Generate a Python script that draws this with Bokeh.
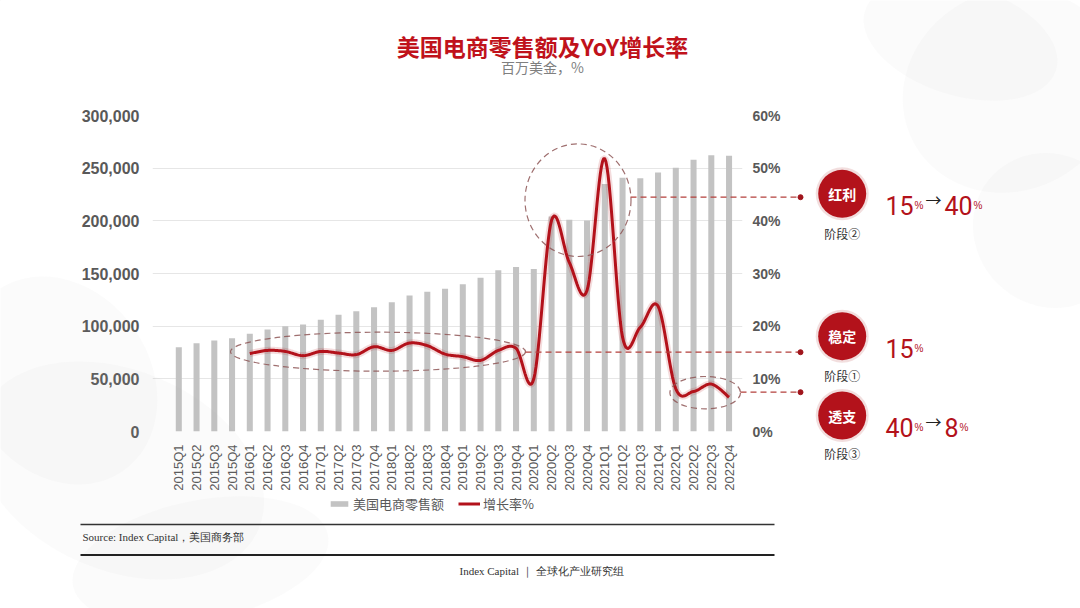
import math
from bokeh.plotting import figure
from bokeh.models import (Range1d, LinearAxis, FixedTicker, PrintfTickFormatter, NumeralTickFormatter,
                          Label, Legend, LegendItem, GridBox)
from bokeh.embed import file_html
from bokeh.resources import INLINE

# ---------------- data ----------------
quarters = [f"{y}Q{q}" for y in range(2015, 2023) for q in range(1, 5)]
sales = [80000, 83800, 86400, 88600, 92700, 96800, 100000, 101600,
         106000, 110800, 114200, 118000, 122800, 129000, 132600, 135500,
         139900, 145900, 153200, 156200, 154200, 204000, 201000, 200300,
         235000, 241000, 240500, 246000, 250300, 258000, 262300, 261700]
growth_quarters = quarters[4:]
growth = [14.8, 15.4, 15.2, 14.4, 15.2, 14.9, 14.6, 16.1,
          15.4, 16.8, 16.3, 14.7, 14.2, 13.5, 15.4, 15.8,
          10.0, 40.1, 32.1, 26.8, 51.8, 17.9, 19.8, 23.8,
          8.1, 7.6, 9.0, 6.5]
sales_label = "美国电商零售额"
growth_label = "增长率%"
title_text = "美国电商零售额及YoY增长率"
subtitle_text = "百万美金，%"
source_text = "Source: Index Capital，美国商务部"
footer_text = "Index Capital ｜ 全球化产业研究组"
phase_names = ["红利", "稳定", "透支"]
phase_stages = ["阶段②", "阶段①", "阶段③"]

RED = "#b3121b"
BAR = "#c3c3c3"
GREY_TXT = "#595959"

W, H = 1080, 608
# plot frame in page pixels
FL, FR, FT, FB = 152, 742, 115, 431
X0 = (FL - 178.3) / 17.75
X1 = (FR - 178.3) / 17.75
YMAX = 300000

# ================= chart figure =================
p = figure(width=W, height=H, output_backend="svg", toolbar_location=None,
           x_range=Range1d(X0, X1), y_range=Range1d(0, YMAX),
           min_border_left=FL, min_border_right=W - FR,
           min_border_top=FT, min_border_bottom=H - FB,
           background_fill_color="white", border_fill_color="white")
p.frame_align = False
p.outline_line_color = None
p.extra_y_ranges = {"pct": Range1d(0, 60)}

idx = list(range(len(quarters)))
p.xaxis.ticker = FixedTicker(ticks=idx)
p.xaxis.major_label_overrides = {i: q for i, q in enumerate(quarters)}
p.xaxis.major_label_orientation = math.pi / 2
p.xaxis.major_label_text_font = "Liberation Sans"
p.xaxis.major_label_text_font_size = "13px"
p.xaxis.major_label_text_color = GREY_TXT
p.xaxis.axis_line_color = None
p.xaxis.major_tick_line_color = None
p.xaxis.minor_tick_line_color = None
p.xaxis.major_label_standoff = 7

p.yaxis.ticker = FixedTicker(ticks=list(range(0, 300001, 50000)))
p.yaxis.formatter = NumeralTickFormatter(format="0,0")
ax = p.yaxis[0]
ax.major_label_text_font = "Liberation Sans"
ax.major_label_text_font_size = "16px"
ax.major_label_text_font_style = "bold"
ax.major_label_text_color = GREY_TXT
ax.axis_line_color = None
ax.major_tick_line_color = None
ax.minor_tick_line_color = None
ax.major_label_standoff = 7

rax = LinearAxis(y_range_name="pct", ticker=FixedTicker(ticks=list(range(0, 61, 10))),
                 formatter=PrintfTickFormatter(format="%d%%"))
rax.major_label_text_font = "Liberation Sans"
rax.major_label_text_font_size = "14px"
rax.major_label_text_font_style = "bold"
rax.major_label_text_color = GREY_TXT
rax.axis_line_color = None
rax.major_tick_line_color = None
rax.minor_tick_line_color = None
rax.major_label_standoff = 4
p.add_layout(rax, "right")

p.xgrid.grid_line_color = None
p.ygrid.grid_line_color = "#e6e6e6"

p.vbar(x=idx, top=sales, width=0.34, color=BAR, line_color=None)

# smoothed growth line (Catmull-Rom through the data points)
gx = [quarters.index(q) for q in growth_quarters]
sx, sy = [], []
n = len(gx)
for i in range(n - 1):
    p0 = (gx[max(i - 1, 0)], growth[max(i - 1, 0)])
    p1 = (gx[i], growth[i])
    p2 = (gx[i + 1], growth[i + 1])
    p3 = (gx[min(i + 2, n - 1)], growth[min(i + 2, n - 1)])
    steps = 16
    for s in range(steps):
        t = s / steps
        t2, t3 = t * t, t * t * t
        xx = 0.5 * ((2 * p1[0]) + (-p0[0] + p2[0]) * t + (2 * p0[0] - 5 * p1[0] + 4 * p2[0] - p3[0]) * t2 + (-p0[0] + 3 * p1[0] - 3 * p2[0] + p3[0]) * t3)
        yy = 0.5 * ((2 * p1[1]) + (-p0[1] + p2[1]) * t + (2 * p0[1] - 5 * p1[1] + 4 * p2[1] - p3[1]) * t2 + (-p0[1] + 3 * p1[1] - 3 * p2[1] + p3[1]) * t3)
        sx.append(xx)
        sy.append(yy)
sx.append(gx[-1])
sy.append(growth[-1])

p.line(sx, sy, y_range_name="pct", line_color=RED, line_width=7, line_alpha=0.15)
p.line(sx, sy, y_range_name="pct", line_color=RED, line_width=3, line_join="round")

# ================= overlay figure (pixel coordinates, transparent) =================
q = figure(width=W, height=H, output_backend="svg", toolbar_location=None,
           x_range=Range1d(0, W), y_range=Range1d(H, 0),
           x_axis_type=None, y_axis_type=None, min_border=0,
           background_fill_color=None, border_fill_color=None)
q.frame_align = False
q.outline_line_color = None
q.grid.visible = False

# faint smoky background texture (decorative)
q.ellipse(x=[1010, 960, 1050, 120, 60, 200],
          y=[90, 40, 230, 470, 380, 560],
          width=[220, 200, 150, 300, 180, 260], height=[200, 110, 160, 200, 220, 120],
          angle=[0.5, -0.3, 0.8, -0.4, 0.6, 0.2],
          fill_color="#9a9a9a", fill_alpha=0.045, line_color=None, level="underlay")

# title
q.add_layout(Label(x=542, y=45, text=title_text, text_color="#c0121b",
                   text_font="Noto Sans CJK SC", text_font_size="23px", text_font_style="bold",
                   text_align="center", text_baseline="middle"))
q.add_layout(Label(x=542, y=66, text=subtitle_text, text_color="#7f7f7f",
                   text_font="Noto Sans CJK SC", text_font_size="14px",
                   text_align="center", text_baseline="middle"))

# dashed ellipses around the three phases
q.ellipse(x=[377.5, 577.5, 704.7], y=[351.2, 199.7, 392.2], width=[295, 106, 70.6], height=[39, 112.6, 32.4],
          fill_color=None, line_color="#8e5656", line_dash="6 4", line_width=1.2, line_alpha=0.85)

# connector dashed lines with end dots
cy_lines = [196.7, 351.7, 391.7]
q.segment(x0=[630, 525, 740], y0=cy_lines, x1=[800, 800, 800], y1=cy_lines,
          line_color="#b4403c", line_dash="6 4", line_width=1.3)
q.scatter(x=[800, 800, 800], y=cy_lines, size=5, color="#a0141b")

# phase circles
CX = 841.7
circ_y = [193.3, 335.7, 415]
stage_y = [233, 375, 453]
q.scatter(x=[CX] * 3, y=circ_y, size=53, color="#d9a0a0", alpha=0.35, line_color=None)
q.scatter(x=[CX] * 3, y=circ_y, size=48, color=RED, line_color=None)
for name, stage, cy, sty in zip(phase_names, phase_stages, circ_y, stage_y):
    q.add_layout(Label(x=CX, y=cy, text=name, text_color="white", text_font="Noto Sans CJK SC",
                       text_font_size="14px", text_font_style="bold", text_align="center", text_baseline="middle"))
    q.add_layout(Label(x=CX, y=sty, text=stage, text_color="#333333", text_font="Noto Sans CJK SC",
                       text_font_size="12px", text_align="center", text_baseline="middle"))

NUMF = "Roboto"
def big(txt, px, base):
    q.add_layout(Label(x=px, y=base, text=txt, text_color=RED, text_font=NUMF,
                       text_font_size="25px", text_align="left", text_baseline="alphabetic"))

def pct(px, base):
    q.add_layout(Label(x=px, y=base, text="%", text_color=RED, text_font="Liberation Sans",
                       text_font_size="10px", text_align="left", text_baseline="alphabetic"))

def arrow_txt(px, base):
    q.add_layout(Label(x=px, y=base, text="→", text_color="#222222", text_font="Noto Sans CJK SC",
                       text_font_size="16px", text_align="left", text_baseline="middle"))

big("15", 885, 205); pct(914, 205); arrow_txt(925, 198); big("40", 944, 205); pct(973, 205)
big("15", 885, 348); pct(914, 348)
big("40", 885, 427); pct(914, 427); arrow_txt(925, 420); big("8", 944, 427); pct(959, 427)

# legend (proxy renderers placed off-canvas, same styles as the chart marks)
lb = q.vbar(x=[-500], top=[-500], bottom=[-510], width=1, color=BAR, line_color=None)
ll = q.line(x=[-500, -490], y=[-500, -500], line_color=RED, line_width=3)
legend = Legend(items=[LegendItem(label=sales_label, renderers=[lb]),
                       LegendItem(label=growth_label, renderers=[ll])],
                orientation="horizontal", location=(328, H - 513),
                label_text_font="Noto Sans CJK SC", label_text_font_size="13px",
                label_text_color=GREY_TXT, glyph_width=22, glyph_height=7, label_height=16,
                label_standoff=3, spacing=14, padding=0, margin=0,
                background_fill_alpha=0, border_line_color=None)
q.add_layout(legend, "center")

# footer
q.segment(x0=[80], y0=[524], x1=[774], y1=[524], line_color="#333333", line_width=1.3)
q.segment(x0=[80], y0=[554.5], x1=[774], y1=[554.5], line_color="#222222", line_width=2.2)
q.add_layout(Label(x=82, y=536, text=source_text, text_color="#333333",
                   text_font="Liberation Serif", text_font_size="11px",
                   text_align="left", text_baseline="middle"))
q.add_layout(Label(x=541, y=570, text=footer_text, text_color="#333333",
                   text_font="Liberation Serif", text_font_size="11px",
                   text_align="center", text_baseline="middle"))

layout = GridBox(children=[(p, 0, 0), (q, 0, 0)])
open("out.html", "w").write(file_html(layout, INLINE))
